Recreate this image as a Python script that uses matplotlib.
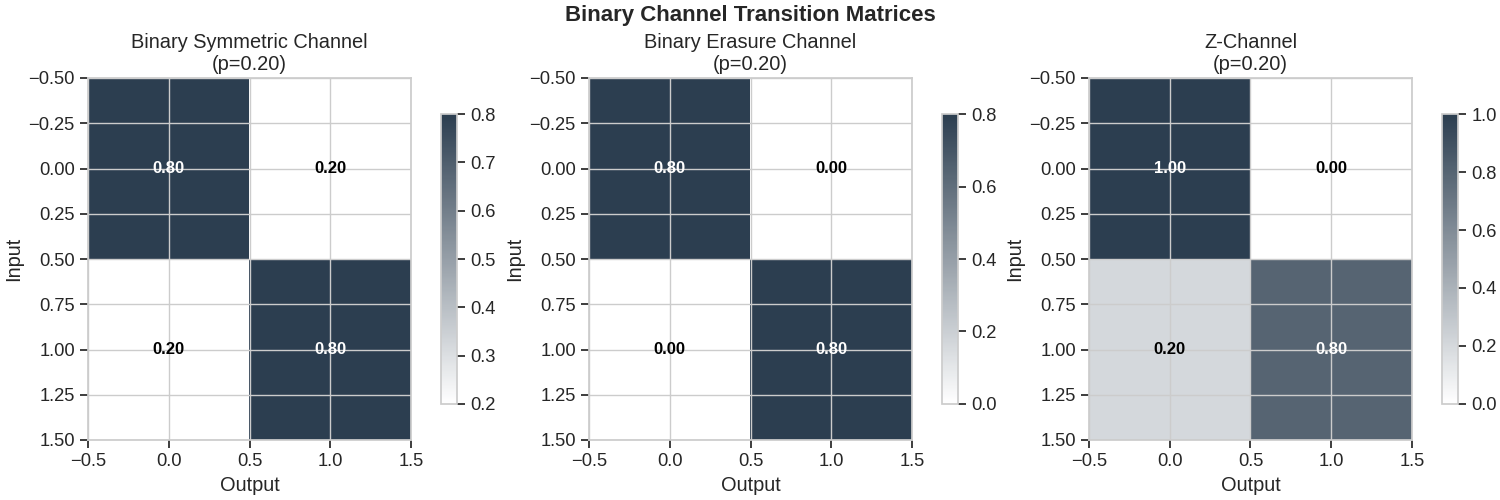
import numpy as np
import matplotlib.pyplot as plt
import seaborn as sns
from matplotlib.colors import LinearSegmentedColormap

# Paramètre du canal
p = 0.20

titles = ['Binary Symmetric Channel', 'Binary Erasure Channel', 'Z-Channel']
bsc = [[0.80, 0.20],
       [0.20, 0.80]]
bec = [[0.80, 0.00],
       [0.00, 0.80]]
z_channel = [[1.00, 0.00],
             [0.20, 0.80]]
matrices = [bsc, bec, z_channel]

sns.set_theme(style='whitegrid', context='notebook', font_scale=1.2)
plt.rcParams['font.family'] = ['Liberation Sans', 'DejaVu Sans']
plt.rcParams['xtick.bottom'] = True
plt.rcParams['ytick.left'] = True
plt.rcParams['xtick.major.size'] = 6
plt.rcParams['ytick.major.size'] = 6

cmap = LinearSegmentedColormap.from_list('slate', ['white', '#2c3e50'])

fig = plt.figure(figsize=(15, 5))
fig.suptitle('Binary Channel Transition Matrices', fontsize=16,
             fontweight='bold', y=0.99)

# positions des axes (fraction de la figure)
lefts = [0.0587, 0.3927, 0.726]
W, B, H = 0.2153, 0.12, 0.724
cb_offset, cb_w = 0.2353, 0.0107

for left, title, mat in zip(lefts, titles, matrices):
    mat = np.array(mat)
    ax = fig.add_axes([left, B, W, H])
    cax = fig.add_axes([left + cb_offset, B + 0.1 * H, cb_w, 0.8 * H])
    im = ax.imshow(mat, cmap=cmap, aspect='auto')
    ax.set_title(f'{title}\n(p={p:.2f})')
    ax.set_xlabel('Output')
    ax.set_ylabel('Input')
    for i in range(mat.shape[0]):
        for j in range(mat.shape[1]):
            color = 'white' if mat[i, j] > 0.5 else 'black'
            ax.text(j, i, f'{mat[i, j]:.2f}', ha='center', va='center',
                    color=color, fontweight='bold', fontsize=12)
    fig.colorbar(im, cax=cax)

plt.savefig('out.png', dpi=100)
